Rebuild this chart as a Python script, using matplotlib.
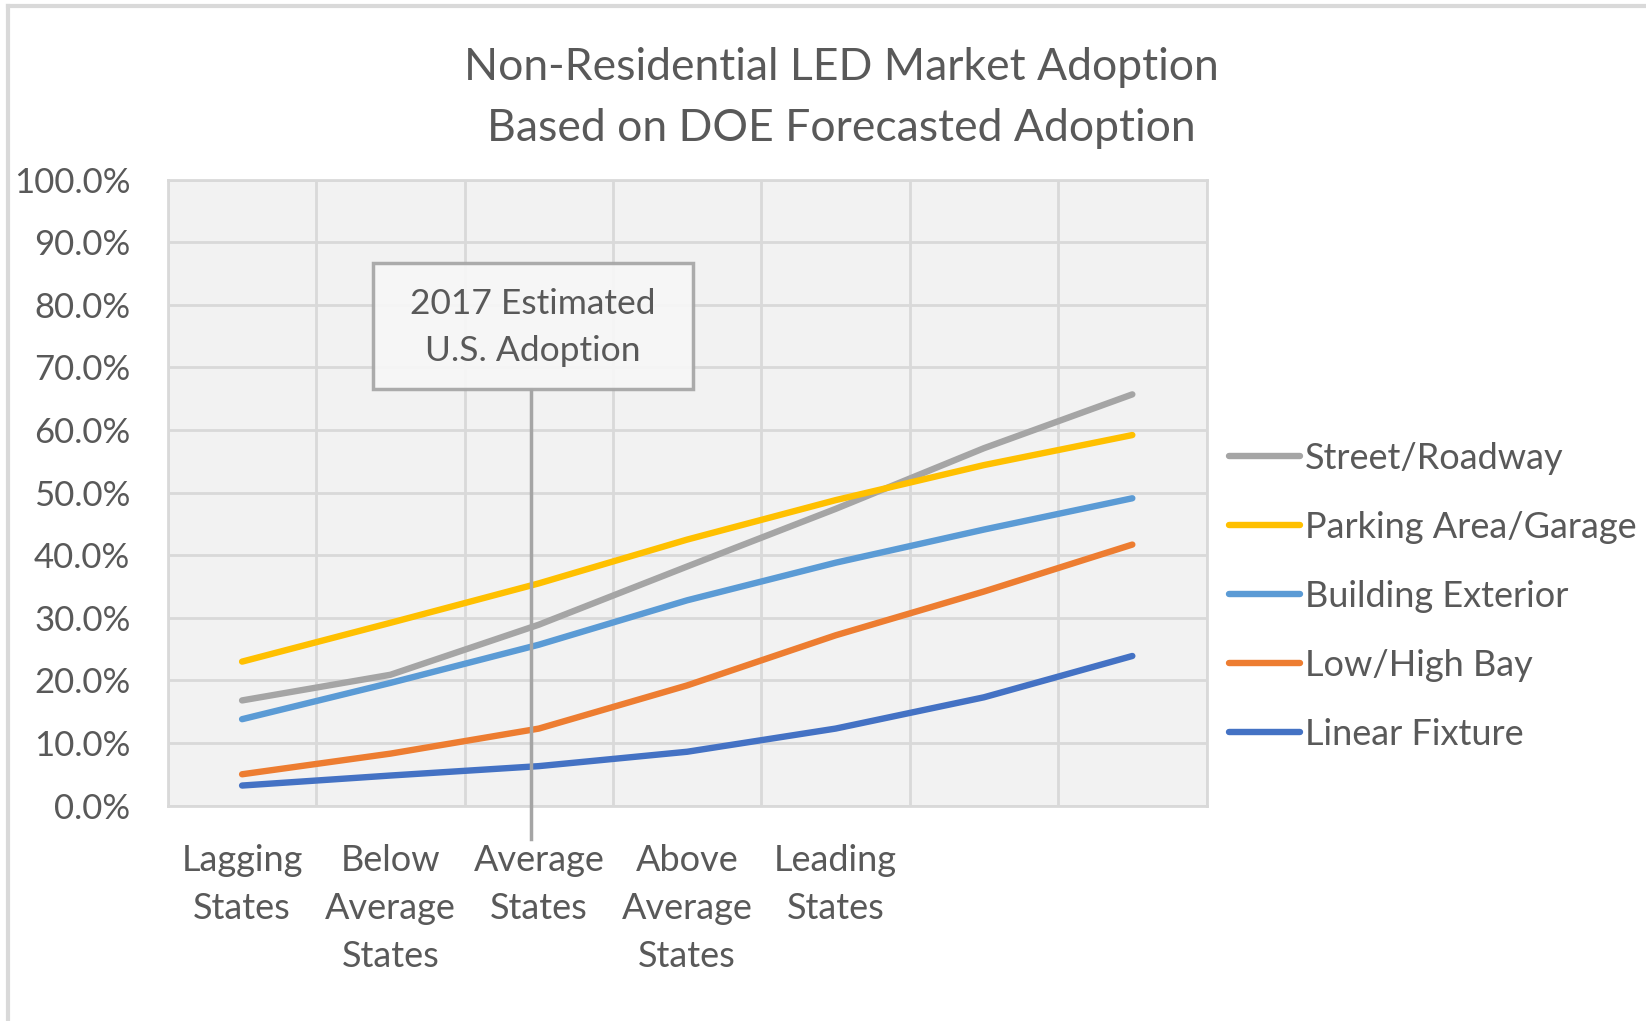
import matplotlib
matplotlib.use("Agg")
import matplotlib.pyplot as plt
from matplotlib.patches import Rectangle
from matplotlib.ticker import PercentFormatter

# category labels (last two categories are unlabeled in the source chart)
categories = ["Lagging\nStates", "Below\nAverage\nStates", "Average\nStates",
              "Above\nAverage\nStates", "Leading\nStates", "", ""]

# adoption share, percent
street_roadway = [16.8, 20.9, 28.9, 38.2, 47.4, 57.1, 65.7]
parking_garage = [23.0, 29.2, 35.5, 42.5, 48.8, 54.4, 59.2]
building_exterior = [13.8, 19.6, 25.7, 32.8, 38.8, 44.1, 49.1]
low_high_bay = [5.0, 8.3, 12.3, 19.2, 27.2, 34.2, 41.7]
linear_fixture = [3.2, 4.8, 6.3, 8.6, 12.3, 17.3, 23.9]

series_names = ["Street/Roadway", "Parking Area/Garage", "Building Exterior",
                "Low/High Bay", "Linear Fixture"]
series_values = [street_roadway, parking_garage, building_exterior,
                 low_high_bay, linear_fixture]
series_colors = ["#A5A5A5", "#FFC000", "#5B9BD5", "#ED7D31", "#4472C4"]

annotation_text = "2017 Estimated\nU.S. Adoption"

plt.rcParams["font.family"] = ["Lato", "DejaVu Sans"]
text_color = "#595959"
grid_color = "#D9D9D9"

fig = plt.figure(figsize=(16.46, 10.21), dpi=100)
ax = fig.add_axes([0.102, 0.211, 0.631, 0.613])
ax.set_facecolor("#F2F2F2")

x = list(range(len(categories)))
for name, vals, col in zip(series_names, series_values, series_colors):
    ax.plot(x, vals, color=col, lw=4.6, solid_capstyle="round",
            solid_joinstyle="round", label=name, zorder=3)

ax.set_xlim(-0.5, len(categories) - 0.5)
ax.set_ylim(0, 100)
ax.set_yticks(range(0, 101, 10))
ax.yaxis.set_major_formatter(PercentFormatter(decimals=1))
ax.set_xticks(x)
ax.set_xticklabels(categories, linespacing=1.55)
ax.set_xticks([i - 0.5 for i in range(len(categories) + 1)], minor=True)

ax.grid(which="major", axis="y", color=grid_color, lw=2)
ax.grid(which="minor", axis="x", color=grid_color, lw=2)
ax.set_axisbelow(True)
ax.tick_params(which="both", length=0)
ax.tick_params(axis="y", labelsize=25, labelcolor=text_color, pad=27)
ax.tick_params(axis="x", labelsize=26, labelcolor=text_color, pad=28)
for sp in ax.spines.values():
    sp.set_color(grid_color)
    sp.set_linewidth(2)

# annotation: callout box with leader line
ax.plot([1.95, 1.95], [66.5, -5.4], color="#A5A5A5", lw=2.5, clip_on=False, zorder=4)
ax.add_patch(Rectangle((0.88, 66.5), 2.16, 20.2, facecolor="#F7F7F7", alpha=0.92,
                       edgecolor="#A5A5A5", lw=2.5, zorder=5))
ax.text(1.96, 76.4, annotation_text, ha="center", va="center", fontsize=25.5,
        color=text_color, linespacing=1.55, zorder=6)

fig.text(0.511, 0.904, "Non-Residential LED Market Adoption\nBased on DOE Forecasted Adoption",
         ha="center", va="center", fontsize=32, color=text_color, linespacing=1.58)

leg = ax.legend(loc="center left", bbox_to_anchor=(0.727, 0.416),
                bbox_transform=fig.transFigure, frameon=False, fontsize=26,
                handlelength=1.97, handletextpad=0.13, labelspacing=1.0)
for t in leg.get_texts():
    t.set_color(text_color)

# chart frame lines (top and left)
fig.add_artist(plt.Line2D([0.005, 1.0], [0.994, 0.994], color=grid_color, lw=3,
                          transform=fig.transFigure))
fig.add_artist(plt.Line2D([0.005, 0.005], [0.0, 0.994], color=grid_color, lw=3,
                          transform=fig.transFigure))

fig.savefig("out.png", dpi=100, facecolor="white")
